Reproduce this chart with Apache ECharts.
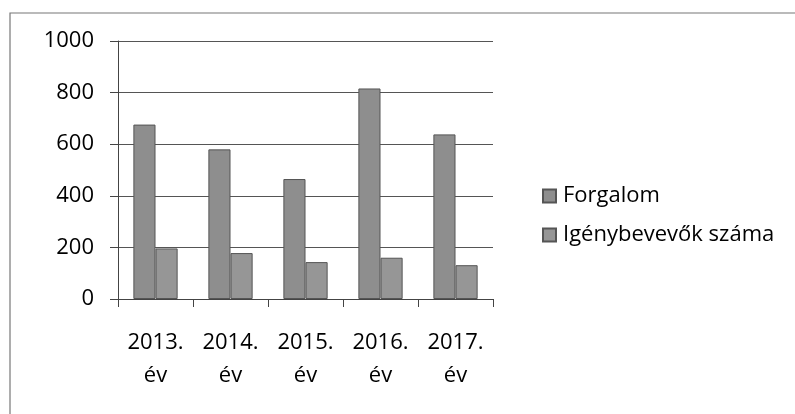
<!DOCTYPE html>
<html>
<head>
<meta charset="utf-8">
<script src="https://cdn.jsdelivr.net/npm/echarts@6/dist/echarts.min.js"></script>
<style>html,body{margin:0;padding:0;background:#fff;}#c{width:795px;height:414px;}</style>
</head>
<body>
<div id="c"></div>
<script>
const categories = ['2013.\név', '2014.\név', '2015.\név', '2016.\név', '2017.\név'];
const forgalom = [676, 580, 465, 816, 638];
const igenybevevok = [196, 178, 143, 160, 131];
const seriesNames = ['Forgalom', 'Igénybevevők száma'];
const yTicks = { min: 0, max: 1000, interval: 200 };

const chart = echarts.init(document.getElementById('c'), null, { renderer: 'canvas' });
const font = '"Open Sans", sans-serif';
chart.setOption({
  animation: false,
  backgroundColor: '#fff',
  graphic: [{
    type: 'polyline',
    shape: { points: [[10, 420], [10, 13], [800, 13]] },
    style: { stroke: '#777', lineWidth: 1.2, fill: null },
    silent: true
  }],
  grid: { left: 118, right: 302, top: 41, bottom: 115 },
  legend: {
    orient: 'vertical',
    left: 537,
    top: 180,
    itemWidth: 13,
    itemHeight: 13,
    itemGap: 17,
    icon: 'rect',
    data: seriesNames,
    textStyle: { fontFamily: font, fontSize: 22, color: '#000', padding: [0, 0, 0, 2] }
  },
  xAxis: {
    type: 'category',
    data: categories,
    axisLine: { lineStyle: { color: '#444', width: 1 } },
    axisTick: { show: true, length: 8, lineStyle: { color: '#444' } },
    axisLabel: { fontFamily: font, fontSize: 22, color: '#000', lineHeight: 33, margin: 27, interval: 0 }
  },
  yAxis: {
    type: 'value',
    min: yTicks.min, max: yTicks.max, interval: yTicks.interval,
    axisLine: { show: true, lineStyle: { color: '#444', width: 1 } },
    axisTick: { show: true, length: 8, lineStyle: { color: '#444' } },
    axisLabel: { fontFamily: font, fontSize: 22, color: '#000', margin: 24, formatter: v => String(v) },
    splitLine: { lineStyle: { color: '#555', width: 1 } }
  },
  series: [
    {
      name: seriesNames[0], type: 'bar', data: forgalom,
      barGap: '0%', barCategoryGap: '41%',
      itemStyle: { color: '#8e8e8e', borderColor: '#555', borderWidth: 1 }
    },
    {
      name: seriesNames[1], type: 'bar', data: igenybevevok,
      barGap: '0%', barCategoryGap: '41%',
      itemStyle: { color: '#969696', borderColor: '#555', borderWidth: 1 }
    }
  ]
});
</script>
</body>
</html>
